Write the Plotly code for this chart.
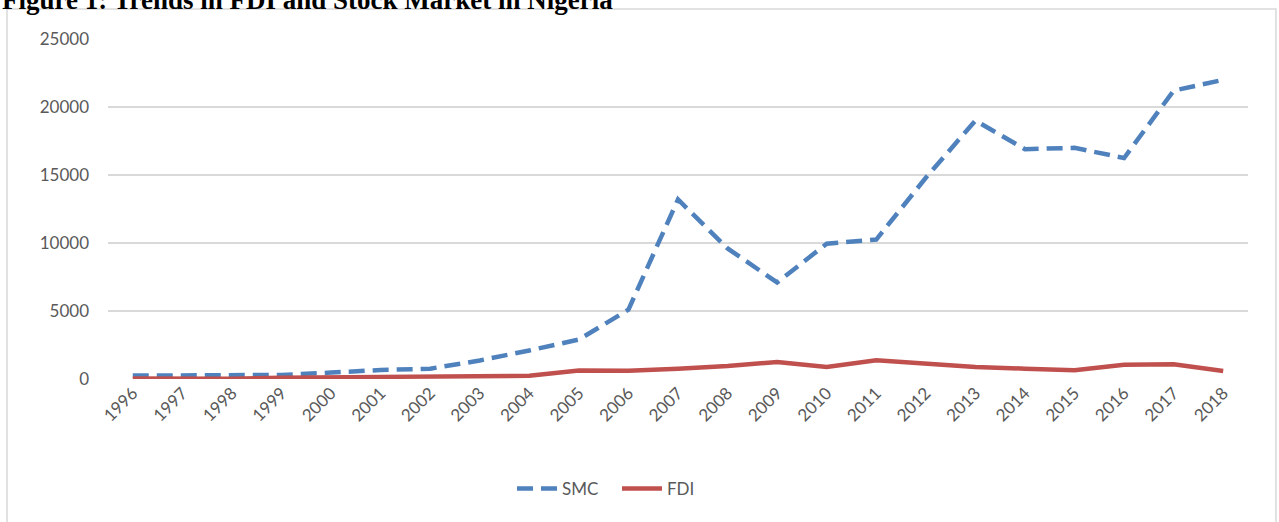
import plotly.graph_objects as go

years = [str(y) for y in range(1996, 2019)]
smc = [250, 270, 260, 300, 470, 660, 760, 1360, 2100, 2900, 5100, 13200, 9600,
       7100, 9950, 10250, 14800, 19000, 16900, 17000, 16250, 21200, 22000]
fdi = [30, 20, 10, 100, 120, 130, 230, 250, 240, 620, 600, 750, 950,
       1250, 880, 1380, 1120, 880, 760, 640, 1050, 1080, 590]

W, H = 1279, 522
L, R, T, B = 108, 31, 39, 143
pw, ph = W - L - R, H - T - B

def px(x):
    return (x - L) / pw

def py(y):
    return (H - B - y) / ph

fig = go.Figure()
fig.add_trace(go.Scatter(x=years, y=smc, name="SMC", mode="lines",
                         line=dict(color="#4F81BD", width=4.5, dash="16px,8px")))
fig.add_trace(go.Scatter(x=years, y=fdi, name="FDI", mode="lines",
                         line=dict(color="#C0504D", width=4.5)))

fig.update_layout(
    width=W, height=H,
    margin=dict(l=L, r=R, t=T, b=B, autoexpand=False),
    paper_bgcolor="white", plot_bgcolor="white",
    font=dict(family="Lato, Open Sans, sans-serif", size=16, color="#595959"),
    showlegend=True,
    legend=dict(orientation="h", x=px(512), xanchor="left", y=py(489), yanchor="middle",
                font=dict(size=17, color="#595959"), itemwidth=40, entrywidth=50,
                bgcolor="rgba(0,0,0,0)"),
    xaxis=dict(type="category", range=[-0.5, 22.5], tickangle=-45, showgrid=False,
               showline=False, ticks="", tickfont=dict(size=17, color="#595959")),
    yaxis=dict(range=[0, 25000], dtick=5000, tickformat="d", showgrid=True,
               gridcolor="#D9D9D9", gridwidth=1.5, zeroline=False, showline=False,
               ticks="", ticklabelstandoff=18, tickfont=dict(size=17, color="#595959")),
)

# outer chart frame
fig.add_shape(type="rect", xref="paper", yref="paper",
              x0=px(7), x1=px(1276), y0=py(560), y1=py(9),
              line=dict(color="#D9D9D9", width=1.5), fillcolor="rgba(0,0,0,0)",
              layer="below")

# document caption (partly clipped at the top, as in the source page)
fig.add_annotation(text="<b>Figure 1: Trends in FDI and Stock Market in Nigeria</b>",
                   xref="paper", yref="paper", x=px(0), xanchor="left",
                   y=py(17), yanchor="bottom", showarrow=False,
                   font=dict(family="Liberation Serif, Times New Roman, serif",
                             size=27, color="black"))

fig.write_html("out.html", config={"displayModeBar": False},
               post_script="document.body.style.margin='0';")
